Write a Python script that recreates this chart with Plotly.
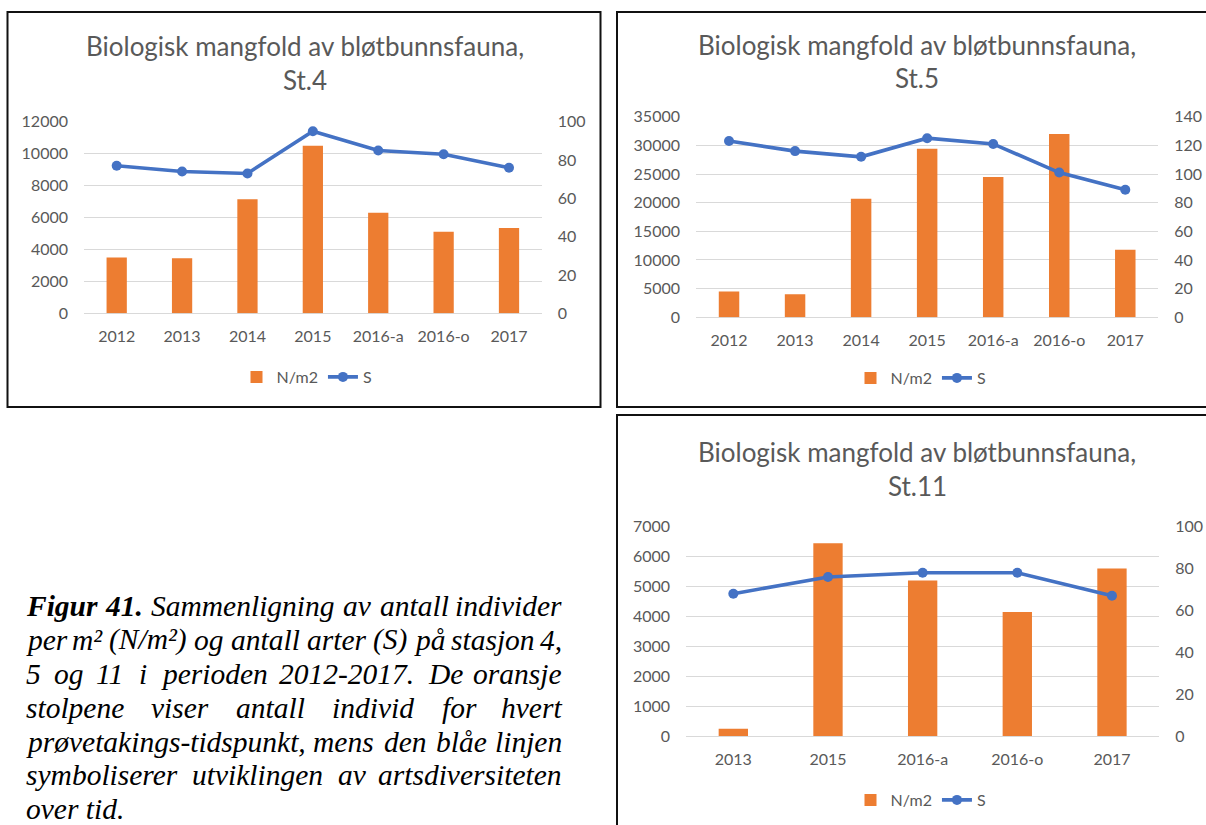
import re
import plotly.graph_objects as go

# ---------------- data ----------------
st4_categories = ["2012", "2013", "2014", "2015", "2016-a", "2016-o", "2017"]
st4_n_per_m2 = [3500, 3450, 7150, 10500, 6300, 5100, 5350]
st4_species = [77, 74, 73, 95, 85, 83, 76]

st5_categories = ["2012", "2013", "2014", "2015", "2016-a", "2016-o", "2017"]
st5_n_per_m2 = [4500, 4000, 20700, 29400, 24500, 32000, 11800]
st5_species = [123, 116, 112, 125, 121, 101, 89]

st11_categories = ["2013", "2015", "2016-a", "2016-o", "2017"]
st11_n_per_m2 = [240, 6450, 5200, 4150, 5600]
st11_species = [68, 76, 78, 78, 67]

chart_title = "Biologisk mangfold av bløtbunnsfauna,"
station_labels = ["St.4", "St.5", "St.11"]
bar_name = "N/m2"
line_name = "S"

caption_lines = [
    ["<b>Figur</b>", "<b>41.</b>", "Sammenligning", "av", "antall", "individer"],
    ["per", "m²", "(N/m²)", "og", "antall", "arter", "(S)",
     "på", "stasjon", "4,"],
    ["5", "og", "11", "i", "perioden", "2012-2017.", "De", "oransje"],
    ["stolpene", "viser", "antall", "individ", "for", "hvert"],
    ["prøvetakings-tidspunkt,", "mens", "den", "blåe", "linjen"],
    ["symboliserer", "utviklingen", "av", "artsdiversiteten"],
    ["over", "tid."],
]

# ---------------- styling ----------------
W, H = 1206, 825
ORANGE = "#ED7D31"
BLUE = "#4472C4"
GRID = "#D9D9D9"
TXT = "#595959"
SANS = "Lato"
SERIF = "Liberation Serif"


def px(x):
    return x / W


def py(y):
    return 1 - y / H


fig = go.Figure()

panels = [
    # plot box (left, right, top, bottom), title centre, legend centre and
    # frame are given in pixels of the 1206x825 page
    dict(cats=st4_categories, bars=st4_n_per_m2, line=st4_species,
         lrange=12000, ldtick=2000, rrange=100, rdtick=20,
         box=(84, 541.7, 121.7, 313.3), tx=305, ty=(46, 80),
         leg=(307, 377), border=(7.5, 600.5, 12, 407)),
    dict(cats=st5_categories, bars=st5_n_per_m2, line=st5_species,
         lrange=35000, ldtick=5000, rrange=140, rdtick=20,
         box=(696, 1158.3, 116.7, 317.3), tx=917, ty=(45, 78),
         leg=(921, 378), border=(617, 1215, 12, 407)),
    dict(cats=st11_categories, bars=st11_n_per_m2, line=st11_species,
         lrange=7000, ldtick=1000, rrange=100, rdtick=20,
         box=(686, 1159.3, 526.7, 736), tx=917, ty=(452, 486),
         leg=(921, 800), border=(617, 1215, 415, 840)),
]

annotations = []
shapes = []
layout_axes = {}

for i, p in enumerate(panels):
    k = i + 1
    xa = "x" if k == 1 else f"x{k}"
    ya_left = f"y{2 * k - 1}" if k > 1 else "y"
    ya_right = f"y{2 * k}"
    leg = "legend" if k == 1 else f"legend{k}"

    fig.add_trace(go.Bar(
        x=p["cats"], y=p["bars"], name=bar_name, marker_color=ORANGE,
        marker_line_width=0, xaxis=xa, yaxis=ya_left, legend=leg,
    ))
    fig.add_trace(go.Scatter(
        x=p["cats"], y=p["line"], name=line_name, mode="lines+markers",
        line=dict(color=BLUE, width=3.6), marker=dict(color=BLUE, size=10),
        xaxis=xa, yaxis=ya_right, legend=leg,
    ))

    l, r, t, b = p["box"]
    tickfont = dict(family=SANS, size=16, color=TXT)
    xkey = "xaxis" if k == 1 else f"xaxis{k}"
    ylkey = "yaxis" if k == 1 else f"yaxis{2 * k - 1}"
    yrkey = f"yaxis{2 * k}"
    layout_axes[xkey] = dict(
        domain=[px(l), px(r)], anchor=ya_left, type="category",
        showgrid=False, showline=False, zeroline=False, ticks="",
        tickfont=tickfont, ticklabelstandoff=12, automargin=False,
    )
    layout_axes[ylkey] = dict(
        domain=[py(b), py(t)], anchor=xa, range=[0, p["lrange"]],
        dtick=p["ldtick"], showgrid=True, gridcolor=GRID, gridwidth=1.3,
        zeroline=True, zerolinecolor=GRID, zerolinewidth=1.3,
        showline=False, ticks="", tickfont=tickfont, ticklabelstandoff=15,
        tickformat="d", automargin=False,
    )
    layout_axes[yrkey] = dict(
        domain=[py(b), py(t)], anchor=xa, overlaying=ya_left, side="right",
        range=[0, p["rrange"]], dtick=p["rdtick"], showgrid=False,
        zeroline=False, showline=False, ticks="", tickfont=tickfont,
        ticklabelstandoff=15, automargin=False,
    )

    lx, ly = p["leg"]
    layout_axes[leg] = dict(
        orientation="h", x=px(lx), y=py(ly), xanchor="center", yanchor="middle",
        font=dict(family=SANS, size=16, color=TXT), bgcolor="rgba(0,0,0,0)",
        itemwidth=30, tracegroupgap=0,
    )

    for text, yy in zip([chart_title, station_labels[i]], p["ty"]):
        annotations.append(dict(
            text=text, x=px(p["tx"]), y=py(yy), xref="paper", yref="paper",
            xanchor="center", yanchor="middle", showarrow=False,
            font=dict(family=SANS, size=26, color=TXT),
        ))

    bx0, bx1, by0, by1 = p["border"]
    shapes.append(dict(
        type="rect", xref="paper", yref="paper",
        x0=px(bx0), x1=px(bx1), y0=py(by1), y1=py(by0),
        line=dict(color="#111111", width=2), fillcolor="rgba(0,0,0,0)",
    ))

# ---------------- caption (justified block of serif italic text) ----------------
IT = {
    " ": 250, "a": 500, "b": 500, "c": 444, "d": 500, "e": 444, "f": 278, "g": 500,
    "h": 500, "i": 278, "j": 278, "k": 444, "l": 278, "m": 722, "n": 500, "o": 500,
    "p": 500, "q": 500, "r": 389, "s": 389, "t": 278, "u": 500, "v": 444, "w": 667,
    "x": 444, "y": 444, "z": 389, "å": 500, "ø": 500, "A": 611, "D": 722, "N": 667,
    "S": 500, "F": 611, ".": 250, ",": 250, "-": 333, "(": 333, ")": 333, "/": 278,
    "²": 300,
}
BI = {"F": 667, "i": 278, "g": 500, "u": 556, "r": 389, ".": 250}
CAP_FS = 29.5
CAP_LEFT, CAP_RIGHT = 24.5, 563
CAP_BASE0, CAP_STEP = 617, 33.8
SERIF_DESC = 0.216


def token_width(tok):
    bold = "<b>" in tok
    t = re.sub(r"</?b>", "", tok)
    table = BI if bold else IT
    return sum(table.get(c, IT.get(c, 500)) for c in t) * CAP_FS / 1000


cap_font = dict(family=SERIF, size=CAP_FS, color="#000000", style="italic")
for li, words in enumerate(caption_lines):
    ybottom = CAP_BASE0 + li * CAP_STEP + SERIF_DESC * CAP_FS
    last_line = li == len(caption_lines) - 1
    if last_line:
        annotations.append(dict(
            text=" ".join(words), x=px(CAP_LEFT), y=py(ybottom), xref="paper",
            yref="paper", xanchor="left", yanchor="bottom", showarrow=False,
            font=cap_font, borderpad=0,
        ))
        continue
    widths = [token_width(w_) for w_ in words]
    gap = (CAP_RIGHT - CAP_LEFT - sum(widths)) / (len(words) - 1)
    xpos = CAP_LEFT
    for wi, (word, wd) in enumerate(zip(words, widths)):
        is_last = wi == len(words) - 1
        annotations.append(dict(
            text=word, x=px(CAP_RIGHT if is_last else xpos), y=py(ybottom),
            xref="paper", yref="paper", xanchor="right" if is_last else "left",
            yanchor="bottom", showarrow=False, font=cap_font, borderpad=0,
        ))
        xpos += wd + gap

fig.update_layout(
    width=W, height=H, margin=dict(l=0, r=0, t=0, b=0, autoexpand=False),
    paper_bgcolor="white", plot_bgcolor="white",
    bargap=0.69, showlegend=True,
    annotations=annotations, shapes=shapes,
    **layout_axes,
)

fig.write_html("out.html")
